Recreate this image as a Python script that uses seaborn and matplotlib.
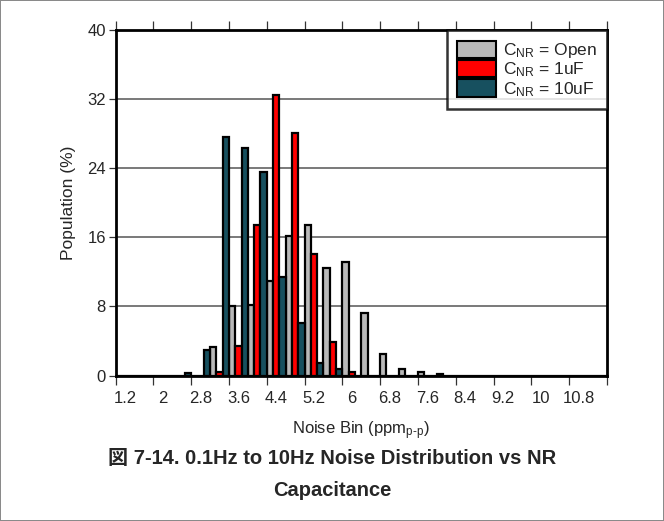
import numpy as np
import pandas as pd
import matplotlib
matplotlib.use('Agg')
import matplotlib.pyplot as plt
import seaborn as sns
from matplotlib.ticker import FixedLocator, FixedFormatter, NullFormatter
from matplotlib.patches import Patch

# ---------------- data ----------------
BINS = ['1.2', '1.6', '2.0', '2.4', '2.8', '3.2', '3.6', '4.0', '4.4', '4.8',
        '5.2', '5.6', '6.0', '6.4', '6.8', '7.2', '7.6', '8.0', '8.4', '8.8',
        '9.2', '9.6', '10.0', '10.4', '10.8', '11.2']
OPEN = [0, 0, 0, 0, 0, 3.3, 8.05, 8.2, 11.0, 16.2, 17.4, 12.4, 13.2, 7.3,
        2.45, 0.75, 0.35, 0.15, 0, 0, 0, 0, 0, 0, 0, 0]
UF1 = [0, 0, 0, 0, 0, 0.45, 3.4, 17.4, 32.5, 28.1, 14.1, 3.9, 0.45, 0,
       0, 0, 0, 0, 0, 0, 0, 0, 0, 0, 0, 0]
UF10 = [0, 0, 0, 0.3, 2.9, 27.6, 26.4, 23.6, 11.4, 6.05, 1.45, 0.7, 0, 0,
        0, 0, 0, 0, 0, 0, 0, 0, 0, 0, 0, 0]
SERIES = ['C$_{\\mathrm{NR}}$ = Open', 'C$_{\\mathrm{NR}}$ = 1uF', 'C$_{\\mathrm{NR}}$ = 10uF']
COLORS = ['#b9b9b9', '#ff0000', '#17505f']
TICK_LABELS = ['1.2', '2', '2.8', '3.6', '4.4', '5.2', '6', '6.8', '7.6',
               '8.4', '9.2', '10', '10.8']
YTICKS = [0, 8, 16, 24, 32, 40]

# ---------------- style ----------------
sns.set_style('white')
plt.rcParams['font.family'] = ['Liberation Sans', 'Noto Sans CJK JP', 'DejaVu Sans']
plt.rcParams['mathtext.fontset'] = 'custom'
plt.rcParams['mathtext.rm'] = 'Liberation Sans'
plt.rcParams['mathtext.it'] = 'Liberation Sans:italic'
plt.rcParams['mathtext.bf'] = 'Liberation Sans:bold'

df = pd.DataFrame({
    'bin': BINS * 3,
    'value': OPEN + UF1 + UF10,
    'series': [SERIES[0]] * len(BINS) + [SERIES[1]] * len(BINS) + [SERIES[2]] * len(BINS),
})

W, H = 664, 521
fig = plt.figure(figsize=(W / 100, H / 100), dpi=100)
fig.patch.set_facecolor('white')
fig.patch.set_edgecolor('#8a8a8a')
fig.patch.set_linewidth(1.2)

ax = fig.add_axes([115.5 / W, 1 - 375.5 / H, (607 - 115.5) / W, (375.5 - 30.3) / H])

sns.barplot(data=df, x='bin', y='value', hue='series', order=BINS,
            hue_order=SERIES, palette=COLORS, width=1.0, dodge=True,
            edgecolor='black', linewidth=1.6, saturation=1, ax=ax, legend=False)

ax.set_xlim(-0.5, len(BINS) - 0.5)
ax.set_ylim(0, 40)

# grid
ax.set_axisbelow(True)
ax.yaxis.grid(True, color='#555555', linewidth=1.1)
ax.xaxis.grid(False)

# spines
for s in ax.spines.values():
    s.set_visible(True)
    s.set_color('black')
    s.set_linewidth(2.0)

# y ticks
ax.set_yticks(YTICKS)
ax.set_yticklabels([str(v) for v in YTICKS])
ax.tick_params(axis='y', which='major', direction='out', length=5, width=0.9,
               labelsize=12, pad=2, left=True, right=False, color='#333333')

# x ticks: tick marks at every second category boundary, labels under even categories
bounds = [-0.5 + 2 * i for i in range(len(TICK_LABELS) + 1)]
label_pos = [2 * i for i in range(len(TICK_LABELS))]
ax.xaxis.set_major_locator(FixedLocator(bounds))
ax.xaxis.set_major_formatter(NullFormatter())
ax.xaxis.set_minor_locator(FixedLocator(label_pos))
ax.xaxis.set_minor_formatter(FixedFormatter(TICK_LABELS))
ax.tick_params(axis='x', which='major', direction='out', length=6.5, width=0.9,
               bottom=True, top=True, labelbottom=False, labeltop=False, color='#333333')
ax.tick_params(axis='x', which='minor', length=0, labelsize=12, pad=11,
               bottom=True, top=False, labelbottom=True)

ax.set_xlabel('Noise Bin (ppm$_{\\mathrm{p\\text{-}p}}$)', fontsize=12, labelpad=10)
ax.set_ylabel('Population (%)', fontsize=12.5, labelpad=8)

# legend
handles = [Patch(facecolor=c, edgecolor='black', linewidth=1.5, label=l)
           for c, l in zip(COLORS, SERIES)]
leg = ax.legend(handles=handles, loc='upper right', bbox_to_anchor=(1.0, 1.0),
                borderaxespad=0, frameon=True, fancybox=False, fontsize=12.5,
                handlelength=2.2, handleheight=1.15, labelspacing=0.0,
                handletextpad=0.4, borderpad=0.6)
leg.get_frame().set_edgecolor('black')
leg.get_frame().set_linewidth(1.8)

# caption
fig.text(0.5, 1 - 458 / H, '図 7-14. 0.1Hz to 10Hz Noise Distribution vs NR',
         ha='center', va='center', fontsize=14.5, fontweight='bold')
fig.text(0.5, 1 - 490 / H, 'Capacitance',
         ha='center', va='center', fontsize=14.5, fontweight='bold')

fig.savefig('out.png', dpi=100, facecolor=fig.get_facecolor(),
            edgecolor=fig.get_edgecolor())
